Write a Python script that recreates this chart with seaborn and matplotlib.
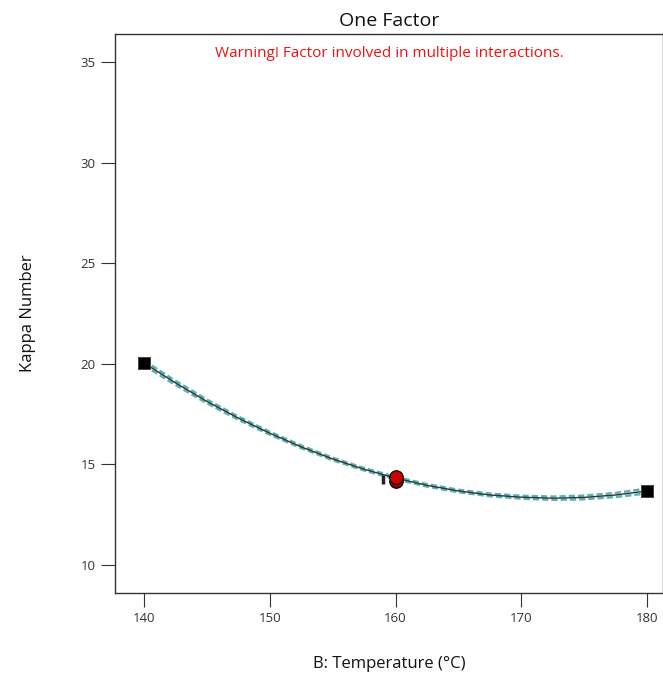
import matplotlib
matplotlib.use("Agg")
import matplotlib.pyplot as plt
import seaborn as sns
import pandas as pd

# Data
temperature = [140, 142.5, 145, 147.5, 150, 152.5, 155, 157.5, 160,
               162.5, 165, 167.5, 170, 172.5, 175, 177.5, 180]
kappa_pred = [20.04, 19.05, 18.13, 17.30, 16.55, 15.87, 15.27, 14.76, 14.32,
              13.96, 13.68, 13.48, 13.37, 13.32, 13.36, 13.48, 13.68]
kappa_upper = [20.16, 19.15, 18.22, 17.38, 16.62, 15.94, 15.33, 14.82, 14.38,
               14.02, 13.74, 13.55, 13.44, 13.40, 13.45, 13.58, 13.80]
kappa_lower = [19.92, 18.95, 18.04, 17.22, 16.48, 15.81, 15.21, 14.70, 14.26,
               13.90, 13.62, 13.42, 13.30, 13.24, 13.27, 13.38, 13.56]

end_temp = [140, 180]
end_kappa = [20.04, 13.68]

design_temp = [160, 160]
design_kappa = [14.17, 14.37]
design_colors = ["#8b0000", "#cc0000"]

lsd_temp = 159.0
lsd_low, lsd_high = 14.05, 14.45

xticks = [140, 150, 160, 170, 180]
yticks = [10, 15, 20, 25, 30, 35]

sns.set_theme(style="white")
plt.rcParams["font.family"] = ["Open Sans", "DejaVu Sans"]

fig = plt.figure(figsize=(6.63, 6.76), dpi=100)
ax = fig.add_axes([0.1735, 0.1228, 0.8265, 0.8269])

df = pd.DataFrame({"T": temperature, "pred": kappa_pred,
                   "up": kappa_upper, "lo": kappa_lower})

sns.lineplot(data=df, x="T", y="up", ax=ax, color="#5ab4b4", lw=1.8,
             linestyle=(0, (2.5, 1.2)), zorder=2)
sns.lineplot(data=df, x="T", y="lo", ax=ax, color="#5ab4b4", lw=1.8,
             linestyle=(0, (2.5, 1.2)), zorder=2)
sns.lineplot(data=df, x="T", y="pred", ax=ax, color="#333333", lw=1.0, zorder=3)

ax.vlines(lsd_temp, lsd_low, lsd_high, color="#222222", lw=2.5, zorder=4)

sns.scatterplot(x=end_temp, y=end_kappa, ax=ax, marker="s", s=80,
                color="black", edgecolor="#444444", zorder=5)
for t, k, c in zip(design_temp, design_kappa, design_colors):
    ax.scatter([t], [k], s=95, color=c, edgecolor="black", lw=0.8, zorder=6)

ax.set_xlim(137.69, 181.27)
ax.set_ylim(8.61, 36.39)
ax.set_xticks(xticks)
ax.set_yticks(yticks)
ax.tick_params(axis="both", direction="out", length=10, width=0.8,
               color="#333333", labelsize=9.5, labelcolor="#333333", pad=4,
               bottom=True, left=True)

for side in ["left", "bottom", "top", "right"]:
    ax.spines[side].set_color("#333333")
    ax.spines[side].set_linewidth(1.0)

ax.set_xlabel("B: Temperature (°C)", fontsize=12, color="#111111", labelpad=22)
ax.set_ylabel("Kappa Number", fontsize=12, color="#111111", labelpad=32)
ax.set_title("One Factor", fontsize=14, color="#111111", pad=6)
ax.text(0.5, 0.965, "Warning! Factor involved in multiple interactions.",
        transform=ax.transAxes, ha="center", va="center", color="#ee1111",
        fontsize=11)

fig.savefig("out.png", dpi=100)
